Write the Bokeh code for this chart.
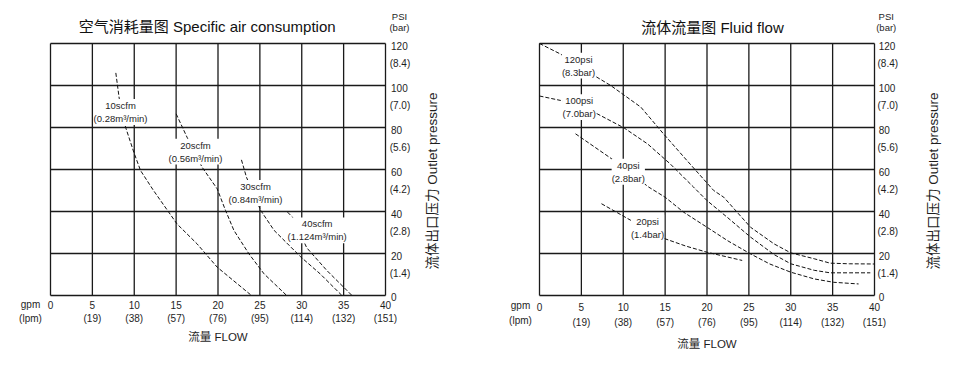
import math
from bokeh.plotting import figure
from bokeh.models import Range1d, LabelSet, ColumnDataSource
from bokeh.core.properties import value
from bokeh.layouts import row
from bokeh.embed import file_html
from bokeh.resources import INLINE

FONT = "Liberation Sans, Noto Sans CJK SC"
TXT = "#1e1e1e"
GRID = "#1a1a1a"

# ---- shared axes ----
gpm_ticks = [0, 5, 10, 15, 20, 25, 30, 35, 40]
gpm_labels = ["0", "5", "10", "15", "20", "25", "30", "35", "40"]
lpm_labels = ["", "(19)", "(38)", "(57)", "(76)", "(95)", "(114)", "(132)", "(151)"]
psi_ticks = [0, 20, 40, 60, 80, 100, 120]
psi_labels = ["0", "20", "40", "60", "80", "100", "120"]
bar_labels = ["", "(1.4)", "(2.8)", "(4.2)", "(5.6)", "(7.0)", "(8.4)"]

# ---- left chart: specific air consumption (gpm, psi) ----
scfm10_x = [7.8, 8.2, 8.96, 9.95, 10.75, 12.3, 15.1, 17.5, 19.9, 24.0]
scfm10_y = [106, 94, 80.2, 68.2, 59.5, 50, 34.1, 24.6, 13.5, 0]
scfm20_x = [15.0, 16.3, 18.1, 19.9, 20.9, 21.9, 23.7, 25.5, 28.2]
scfm20_y = [86.5, 75.4, 61.1, 50.8, 40.5, 31.0, 19.8, 10.3, 0]
scfm30_x = [22.8, 23.4, 25.1, 26.7, 29.9, 32.2, 34.8]
scfm30_y = [64.6, 56.3, 40.5, 31.0, 18.3, 10.3, 0]
scfm40_x = [28.3, 28.9, 30.6, 33.0, 36.0]
scfm40_y = [39.7, 37.3, 22.7, 11.9, 0]
air_label_line1 = ["10scfm", "20scfm", "30scfm", "40scfm"]
air_label_line2 = ["(0.28m³/min)", "(0.56m³/min)", "(0.84m³/min)", "(1.124m³/min)"]
air_label_x = [8.36, 17.31, 24.48, 31.84]
air_label_y = [87.4, 68.5, 48.8, 31.0]

# ---- right chart: fluid flow (gpm, psi) ----
p120_x = [0, 2.5, 6.5, 8.5, 12.1, 14.8, 17.6, 20.8, 22.0, 25.2, 28.0, 30.0, 32.8, 34.7, 37.0, 40.0]
p120_y = [120, 115, 104.8, 100, 89.7, 77, 64.3, 50, 46.8, 32.5, 24.6, 20.3, 17.5, 15.4, 15.1, 15.0]
p100_x = [0, 2.5, 6.9, 10.1, 12.9, 15.6, 18.4, 20.0, 22.4, 25.2, 28.0, 30.0, 32.8, 34.7, 37.0, 39.5]
p100_y = [95, 92.9, 86.5, 79.8, 72.2, 62.7, 51.6, 45.2, 37.3, 27.8, 19.5, 15.1, 12.0, 10.8, 10.8, 10.8]
p40_x = [4.3, 8.9, 13.05, 15.0, 17.2, 20.0, 22.5, 25.2, 27.5, 30.0, 32.8, 35.1, 38.1]
p40_y = [77, 64.3, 51.6, 46.8, 39.7, 32.5, 26.0, 19.8, 15.0, 11.1, 7.9, 6.3, 5.5]
p20_x = [7.4, 11.3, 15.0, 17.5, 20.0, 24.2]
p20_y = [43.7, 34.9, 27.0, 23.5, 20.6, 16.7]
fluid_label_line1 = ["120psi", "100psi", "40psi", "20psi"]
fluid_label_line2 = ["(8.3bar)", "(7.0bar)", "(2.8bar)", "(1.4bar)"]
fluid_label_x = [4.66, 4.74, 10.6, 12.9]
fluid_label_y = [109.5, 89.7, 58.95, 32.3]

PX_PER_GPM = 8.375
PX_PER_PSI = 2.1
HEIGHT = 359
FRAME_BOTTOM_PX = 295
LINE_GAP = 3.1  # half of the label line spacing, in psi units


def make_chart(title, title_xy, curves, lab_x, lab_y, line1, line2, width, frame_left,
               gpm_xy, tick_y, psi_x, atitle_x, flow_y):
    x0 = -frame_left / PX_PER_GPM
    x1 = (width - frame_left) / PX_PER_GPM
    y1 = FRAME_BOTTOM_PX / PX_PER_PSI
    y0 = (FRAME_BOTTOM_PX - HEIGHT) / PX_PER_PSI
    p = figure(width=width, height=HEIGHT, x_range=Range1d(x0, x1), y_range=Range1d(y0, y1),
               x_axis_location=None, y_axis_location=None, toolbar_location=None,
               output_backend="svg", min_border=0, outline_line_color=None,
               background_fill_color="white", border_fill_color="white")
    p.xgrid.visible = False
    p.ygrid.visible = False

    # grid + frame box
    p.segment(x0=gpm_ticks, y0=[psi_ticks[0]] * len(gpm_ticks), x1=gpm_ticks,
              y1=[psi_ticks[-1]] * len(gpm_ticks), line_color=GRID, line_width=1.3)
    p.segment(x0=[gpm_ticks[0]] * len(psi_ticks), y0=psi_ticks, x1=[gpm_ticks[-1]] * len(psi_ticks),
              y1=psi_ticks, line_color=GRID, line_width=1.3)

    for cx, cy in curves:
        p.line(cx, cy, line_color="#111111", line_width=1, line_dash="4 2")

    # white boxes behind the curve labels (two-line block), then centred text lines
    both = [a + "\n" + b for a, b in zip(line1, line2)]
    bg = ColumnDataSource(dict(x=lab_x, y=lab_y, t=both))
    p.add_layout(LabelSet(x="x", y="y", text="t", source=bg, text_align="center",
                          text_baseline="middle", text_font=value(FONT), text_font_size="9.5px",
                          text_alpha=0, text_line_height=1.35,
                          background_fill_color="white", background_fill_alpha=1))
    l1 = ColumnDataSource(dict(x=lab_x, y=[v + LINE_GAP for v in lab_y], t=line1))
    l2 = ColumnDataSource(dict(x=lab_x, y=[v - LINE_GAP for v in lab_y], t=line2))
    for s in (l1, l2):
        p.add_layout(LabelSet(x="x", y="y", text="t", source=s, text_align="center",
                              text_baseline="middle", text_font=value(FONT),
                              text_font_size="9.5px", text_color=TXT))

    def txt(x, y, t, size, align="center", angle=0.0, color=TXT):
        p.text(x=x, y=y, text=t, text_font=value(FONT), text_font_size=size,
               text_align=align, text_baseline="middle", angle=angle, text_color=color)

    # bottom tick labels (gpm / lpm)
    txt(gpm_ticks, [tick_y[0]] * len(gpm_ticks), gpm_labels, "10px")
    txt(gpm_ticks, [tick_y[1]] * len(gpm_ticks), lpm_labels, "10px")
    # right tick labels (psi / bar)
    txt([psi_x[0]] * len(psi_ticks), [t - 1.4 if t else t - 0.5 for t in psi_ticks], psi_labels,
        "10px", align="left")
    txt([psi_x[1]] * len(psi_ticks), [t - 9.5 for t in psi_ticks], bar_labels, "10px", align="left")

    txt([title_xy[0]], [title_xy[1]], [title], "15px", color="#111111")
    txt([psi_x[2]], [132.9], ["PSI"], "9.5px")
    txt([psi_x[2]], [127.8], ["(bar)"], "9.5px")
    txt([gpm_xy[0]], [gpm_xy[1]], ["gpm"], "10px")
    txt([gpm_xy[0]], [gpm_xy[2]], ["(lpm)"], "10px")
    txt([20], [flow_y], ["流量 FLOW"], "11.5px")
    txt([atitle_x], [54.5], ["流体出口压力 Outlet pressure"], "13.5px", angle=math.pi / 2)
    return p


left = make_chart("空气消耗量图 Specific air consumption", (18.71, 128.2),
                  [(scfm10_x, scfm10_y), (scfm20_x, scfm20_y), (scfm30_x, scfm30_y), (scfm40_x, scfm40_y)],
                  air_label_x, air_label_y, air_label_line1, air_label_line2, 480, 50,
                  (-2.39, -4.3, -11.1), (-4.76, -11.1), (40.66, 40.5, 41.67), 45.6, -19.8)
right = make_chart("流体流量图 Fluid flow", (20.66, 127.8),
                   [(p120_x, p120_y), (p100_x, p100_y), (p40_x, p40_y), (p20_x, p20_y)],
                   fluid_label_x, fluid_label_y, fluid_label_line1, fluid_label_line2, 466, 59,
                   (-2.27, -4.76, -11.9), (-5.57, -12.71), (40.5, 40.36, 41.4), 47.08, -23.0)

layout = row(left, right)
open("out.html", "w").write(file_html(layout, INLINE))
